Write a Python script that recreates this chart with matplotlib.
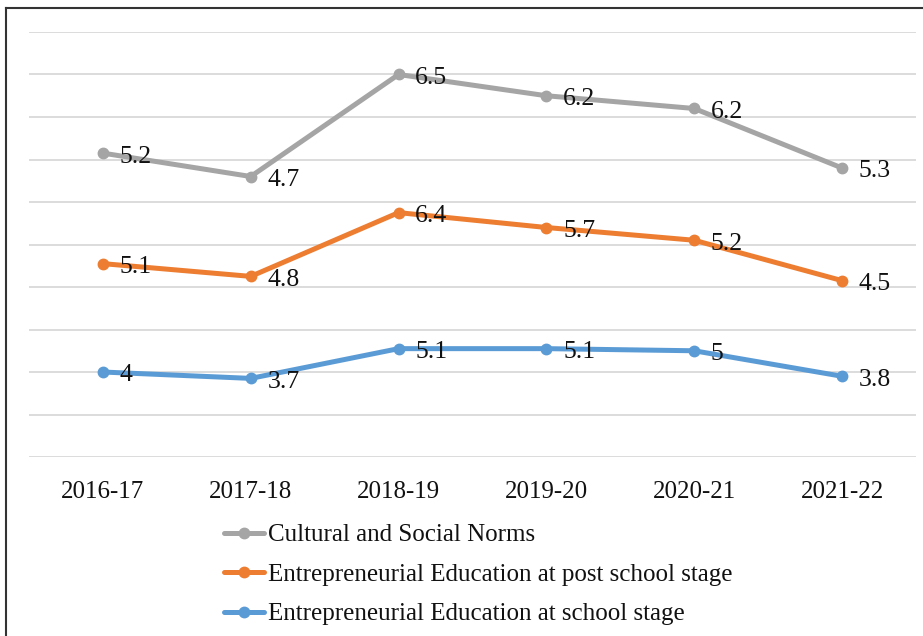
import matplotlib
matplotlib.use("Agg")
import matplotlib.pyplot as plt
from matplotlib.lines import Line2D
import numpy as np

plt.rcParams['font.family'] = ['Liberation Serif', 'DejaVu Serif']

years = ["2016-17", "2017-18", "2018-19", "2019-20", "2020-21", "2021-22"]
school = [4, 3.7, 5.1, 5.1, 5, 3.8]
post_school = [5.1, 4.8, 6.4, 5.7, 5.2, 4.5]
norms = [5.2, 4.7, 6.5, 6.2, 6.2, 5.3]

names = ["Cultural and Social Norms",
         "Entrepreneurial Education at post school stage",
         "Entrepreneurial Education at school stage"]
colors = ["#A5A5A5", "#ED7D31", "#5B9BD5"]

fig = plt.figure(figsize=(9.23, 6.36), dpi=100)
ax = fig.add_axes([0.0314, 0.2814, 0.961, 0.6683])

x = np.arange(len(years))
# stacked line chart: each series sits on top of the one below
base = np.zeros(len(years))
handles = []
for vals, name, col in [(school, names[2], colors[2]),
                        (post_school, names[1], colors[1]),
                        (norms, names[0], colors[0])]:
    top = base + np.array(vals)
    h, = ax.plot(x, top, color=col, lw=3.6, marker="o", ms=7.5,
                 solid_capstyle="round", label=name, zorder=3)
    handles.append(h)
    for xi, yi, v in zip(x, top, vals):
        ax.annotate(f"{v:g}", (xi, yi), xytext=(12, -2.5), textcoords="offset points",
                    ha="left", va="center", fontsize=18.5, color="#111111", zorder=4)
    base = top

ax.set_xlim(-0.5, len(years) - 0.5)
ax.set_ylim(0, 20)
ax.set_yticks(np.arange(0, 21, 2))
ax.set_yticklabels([])
ax.tick_params(axis="y", length=0)
ax.tick_params(axis="x", length=0, labelsize=18, pad=17, colors="#111111")
ax.set_xticks(x)
ax.set_xticklabels(years)
ax.grid(axis="y", color="#D9D9D9", lw=1.3)
ax.set_axisbelow(True)
for s in ax.spines.values():
    s.set_visible(False)

fig.legend(handles[::-1], names, loc="upper left", bbox_to_anchor=(0.2295, 0.196),
           frameon=False, fontsize=18, handlelength=1.6, handletextpad=0.15,
           labelspacing=0.68, borderpad=0, labelcolor="#111111")

# outer frame (left and top edges visible)
fig.add_artist(Line2D([0.0065, 0.0065], [0, 1 - 8 / 636], transform=fig.transFigure,
                      color="#333333", lw=1.5))
fig.add_artist(Line2D([0.0065, 1], [1 - 8 / 636, 1 - 8 / 636], transform=fig.transFigure,
                      color="#333333", lw=1.5))

fig.savefig("out.png", dpi=100)
